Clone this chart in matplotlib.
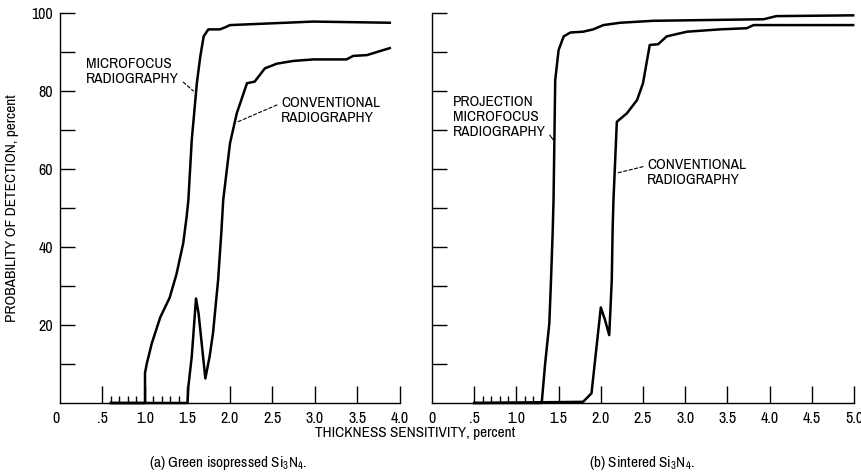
import matplotlib
matplotlib.use("Agg")
import matplotlib.pyplot as plt

# narrow sans to mimic the condensed report font, DejaVu as fallback
plt.rcParams["font.family"] = ["Archivo Narrow", "DejaVu Sans"]
plt.rcParams["mathtext.fontset"] = "custom"
plt.rcParams["mathtext.rm"] = "Archivo Narrow"

# (a) green isopressed Si3N4
green_micro_x = [0.6, 1.0, 1.0, 1.02, 1.08, 1.18, 1.29, 1.37, 1.45, 1.49, 1.51, 1.55, 1.61,
                 1.65, 1.69, 1.745, 1.88, 1.94, 2.0, 2.98, 3.88]
green_micro_y = [0, 0, 7.7, 10, 15.3, 22, 27, 33, 41, 47.8, 52, 67.4, 82,
                 88.8, 94, 95.8, 95.8, 96.3, 96.9, 97.8, 97.5]
green_conv_x = [0.6, 1.5, 1.51, 1.55, 1.6, 1.63, 1.71, 1.76, 1.80, 1.86, 1.90, 1.92, 2.0,
                2.08, 2.2, 2.29, 2.41, 2.55, 2.74, 2.98, 3.37, 3.45, 3.61, 3.88]
green_conv_y = [0, 0, 4.2, 11.9, 26.8, 23, 6.3, 11.9, 17.9, 31.5, 44.4, 52, 66.6,
                74.3, 82, 82.4, 85.8, 87, 87.7, 88.1, 88.1, 89, 89.2, 91]

# (b) sintered Si3N4
sint_micro_x = [0.5, 1.3, 1.34, 1.39, 1.41, 1.43, 1.44, 1.45, 1.46, 1.50, 1.56, 1.64,
                1.79, 1.91, 2.03, 2.23, 2.62, 3.93, 4.08, 4.99]
sint_micro_y = [0, 0, 10, 20.4, 31.5, 44, 52, 67.4, 82.8, 90.5, 94, 95,
                95.2, 95.8, 96.9, 97.5, 98, 98.4, 99.2, 99.4]
sint_conv_x = [0.5, 1.79, 1.89, 2.0, 2.05, 2.10, 2.13, 2.14, 2.15, 2.19, 2.31, 2.43,
               2.50, 2.58, 2.68, 2.78, 3.02, 3.41, 3.73, 3.81, 4.99]
sint_conv_y = [0, 0.3, 2.5, 24.5, 21.3, 17.4, 31.5, 44.4, 52, 72.1, 74.3, 77.7,
               82, 91.8, 92, 94, 95.2, 95.8, 96.1, 96.9, 96.9]

xticks_a = [0, 0.5, 1.0, 1.5, 2.0, 2.5, 3.0, 3.5, 4.0]
xlabels_a = ["0", ".5", "1.0", "1.5", "2.0", "2.5", "3.0", "3.5", "4.0"]
xminor_a = [0.6, 0.7, 0.8, 0.9, 1.1, 1.2, 1.3, 1.4]
xticks_b = [0, 0.5, 1.0, 1.5, 2.0, 2.5, 3.0, 3.5, 4.0, 4.5, 5.0]
xlabels_b = ["0", ".5", "1.0", "1.5", "2.0", "2.5", "3.0", "3.5", "4.0", "4.5", "5.0"]
xminor_b = [0.6, 0.7, 0.8, 0.9, 1.1, 1.2]
yticks = [10, 20, 30, 40, 50, 60, 70, 80, 90, 100]
ylabels = ["", "20", "", "40", "", "60", "", "80", "", "100"]

W, H = 862, 473
fig = plt.figure(figsize=(W / 100, H / 100), dpi=100)
ax1 = fig.add_axes([60 / W, (H - 403) / H, 340 / W, 390 / H])
ax2 = fig.add_axes([432 / W, (H - 403) / H, 422 / W, 390 / H])

FS = 11
TFS = 11.5


def style(ax, xmax, ticks, labels, minor):
    ax.set_xlim(0, xmax)
    ax.set_ylim(0, 100)
    for s in ("top", "right"):
        ax.spines[s].set_visible(False)
    for s in ("left", "bottom"):
        ax.spines[s].set_linewidth(1.0)
    ax.set_xticks(ticks)
    ax.set_xticklabels(labels, fontsize=TFS)
    ax.set_xticks(minor, minor=True)
    ax.tick_params(axis="x", which="major", direction="in", length=12, width=1.0, pad=6)
    ax.tick_params(axis="x", which="minor", direction="in", length=5, width=1.0)
    ax.set_yticks(yticks)
    ax.tick_params(axis="y", which="major", direction="in", length=11, width=1.0, pad=5)
    ax.get_xticklines()[0].set_visible(False)


style(ax1, 4.0, xticks_a, xlabels_a, xminor_a)
style(ax2, 5.0, xticks_b, xlabels_b, xminor_b)
ax1.set_yticklabels(ylabels, fontsize=TFS)
ax2.set_yticklabels([])
# corner "0" of panel (a) sits a bit left of the axis
ax1.get_xticklabels()[0].set_horizontalalignment("right")

lw = 1.8
ax1.plot(green_micro_x, green_micro_y, color="black", lw=lw, clip_on=False)
ax1.plot(green_conv_x, green_conv_y, color="black", lw=lw, clip_on=False)
ax2.plot(sint_micro_x, sint_micro_y, color="black", lw=lw, clip_on=False)
ax2.plot(sint_conv_x, sint_conv_y, color="black", lw=lw, clip_on=False)

dash = dict(arrowstyle="-", color="black", lw=0.8, linestyle=(0, (3, 2)), shrinkA=1, shrinkB=0)
ax1.annotate("MICROFOCUS\nRADIOGRAPHY", xy=(1.57, 80), xytext=(0.31, 85),
             fontsize=FS, va="center", ha="left", linespacing=1.1,
             arrowprops=dict(dash, relpos=(1, 0.25)))
ax1.annotate("CONVENTIONAL\nRADIOGRAPHY", xy=(2.08, 72), xytext=(2.6, 75),
             fontsize=FS, va="center", ha="left", linespacing=1.1,
             arrowprops=dict(dash, relpos=(0, 0.75)))
ax2.annotate("PROJECTION\nMICROFOCUS\nRADIOGRAPHY", xy=(1.44, 67.4), xytext=(0.25, 73.3),
             fontsize=FS, va="center", ha="left", linespacing=1.1,
             arrowprops=dict(arrowstyle="-", color="black", lw=0.8, shrinkA=1, shrinkB=0,
                             relpos=(1, 0.2)))
ax2.annotate("CONVENTIONAL\nRADIOGRAPHY", xy=(2.2, 59), xytext=(2.55, 59),
             fontsize=FS, va="center", ha="left", linespacing=1.1,
             arrowprops=dict(dash, relpos=(0, 0.75)))

fig.text(12 / W, (H - 208) / H, "PROBABILITY OF DETECTION, percent", rotation=90,
         ha="center", va="center", fontsize=FS)
fig.text(415 / W, (H - 433) / H, "THICKNESS SENSITIVITY, percent",
         ha="center", va="center", fontsize=FS)
fig.text(228 / W, (H - 463) / H, "(a) Green isopressed Si$_3$N$_4$.",
         ha="center", va="center", fontsize=FS)
fig.text(642 / W, (H - 463) / H, "(b) Sintered Si$_3$N$_4$.",
         ha="center", va="center", fontsize=FS)

fig.savefig("out.png", dpi=100)
